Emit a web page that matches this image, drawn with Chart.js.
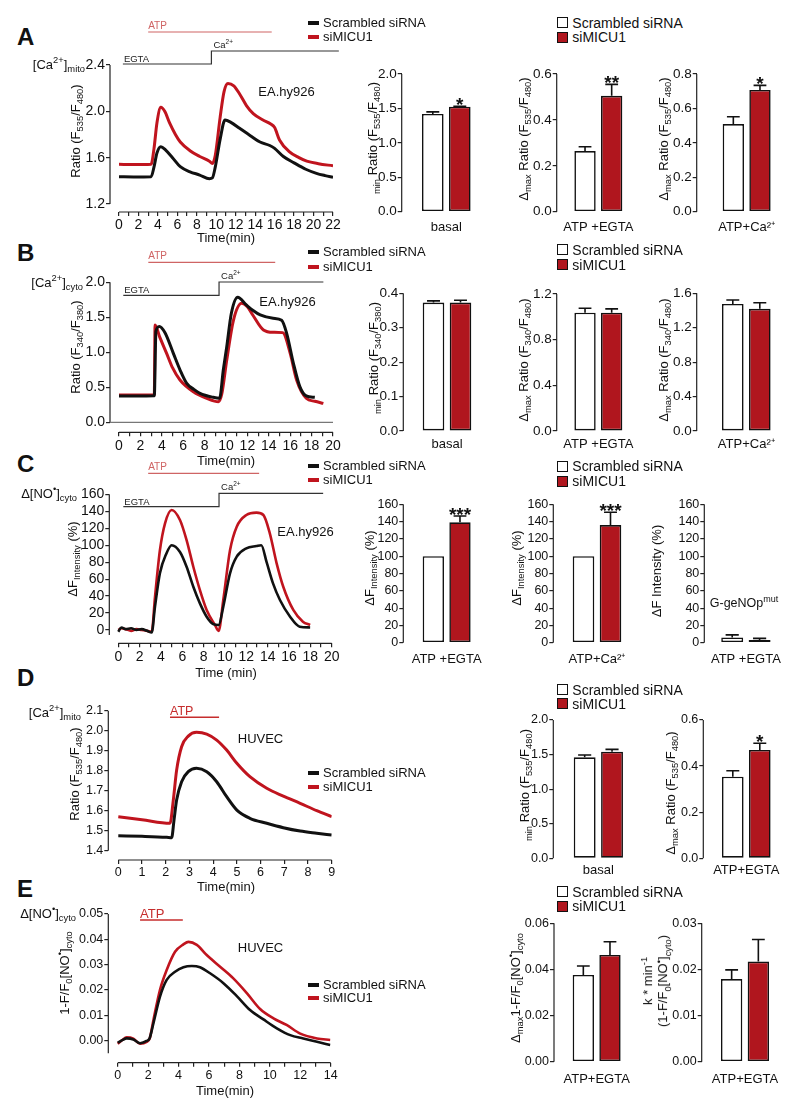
<!DOCTYPE html>
<html>
<head>
<meta charset="utf-8">
<script src="https://cdn.jsdelivr.net/npm/chart.js@4.4.1/dist/chart.umd.min.js"></script>
<style>
  body { margin: 0; background: #fff; }
  #fig { position: relative; width: 800px; height: 1112px; overflow: hidden;
         font-family: "Liberation Sans", Arial, sans-serif; color: #111; }
  #fig canvas { position: absolute; }
  .t { position: absolute; white-space: nowrap; line-height: 1.15; }
  .t sub, .t sup { font-size: 0.72em; line-height: 0; }
  .mk { position: absolute; }
</style>
</head>
<body>
<div id="fig"></div>
<script>
const groups = ['Scrambled siRNA', 'siMICU1'];
const black = '#111', red = '#c0141e', barRed = '#b0161e';

// A: [Ca2+]mito, EA.hy926
const tA_scr = [0, 1.5, 3.3, 3.6, 3.9, 4.3, 4.8, 5.5, 6.3, 7.3, 8.3, 9.3, 9.6, 9.9, 10.4, 10.9, 11.5, 12.4, 13.5, 14.5, 15.5, 16.0, 16.9, 18.0, 19.2, 20.3, 21.2, 22];
const rA_scr = [1.436, 1.434, 1.436, 1.52, 1.64, 1.695, 1.665, 1.6, 1.522, 1.478, 1.45, 1.418, 1.425, 1.52, 1.76, 1.925, 1.905, 1.853, 1.79, 1.735, 1.705, 1.68, 1.61, 1.555, 1.5, 1.465, 1.445, 1.43];
const tA_mic = [0, 1.5, 3.3, 3.6, 3.9, 4.3, 4.7, 5.2, 5.8, 6.3, 7.3, 8.3, 9.3, 9.6, 9.9, 10.4, 10.8, 11.2, 11.8, 12.4, 13.1, 13.8, 14.8, 15.6, 16.0, 16.5, 17.5, 18.5, 19.3, 20.5, 22];
const rA_mic = [1.543, 1.54, 1.543, 1.68, 1.9, 2.035, 2.0, 1.9, 1.8, 1.735, 1.66, 1.61, 1.57, 1.55, 1.62, 1.95, 2.17, 2.24, 2.22, 2.15, 2.05, 1.98, 1.925, 1.89, 1.86, 1.753, 1.652, 1.6, 1.57, 1.548, 1.53];
const atpA = [3.0, 15.7], egtaA = [0.4, 9.5, 22.6];
const xTicksA = [0, 1, 2, 3, 4, 5, 6, 7, 8, 9, 10, 11, 12, 13, 14, 15, 16, 17, 18, 19, 20, 21, 22];
const xLabelsA = [0, 2, 4, 6, 8, 10, 12, 14, 16, 18, 20, 22];
const yTicksA = [1.2, 1.6, 2.0, 2.4];
const basalA = [1.42, 1.526], basalErrA = [0.03, 0.005], basalSigA = ['', '*'];
const egtaMaxA = [0.264, 0.505], egtaErrA = [0.019, 0.05], egtaSigA = ['', '**'];
const caMaxA = [0.509, 0.707], caErrA = [0.043, 0.027], caSigA = ['', '*'];
const yBasalA = [0, 0.5, 1.0, 1.5, 2.0], yEgtaA = [0, 0.2, 0.4, 0.6], yCaA = [0, 0.2, 0.4, 0.6, 0.8];

// B: [Ca2+]cyto, EA.hy926
const tB_scr = [0, 1.5, 3.3, 3.45, 3.77, 4.3, 5.08, 5.7, 6.33, 7.0, 7.57, 8.8, 9.4, 9.75, 10.07, 10.5, 11.09, 11.9, 12.5, 13.2, 14.4, 15.2, 15.67, 16.3, 16.9, 17.5, 18.3];
const rB_scr = [0.376, 0.376, 0.38, 1.3, 1.37, 1.28, 0.985, 0.75, 0.557, 0.47, 0.414, 0.357, 0.343, 0.75, 1.08, 1.557, 1.786, 1.676, 1.6, 1.533, 1.486, 1.457, 1.271, 0.843, 0.509, 0.376, 0.357];
const tB_mic = [0, 1.5, 3.3, 3.37, 3.8, 4.45, 5.0, 5.7, 6.95, 8.2, 9.3, 9.6, 10.07, 10.7, 11.47, 12.0, 12.5, 13.5, 14.4, 15.3, 16.0, 16.6, 17.5, 18.3, 19.1];
const rB_mic = [0.39, 0.39, 0.39, 1.39, 1.22, 0.985, 0.78, 0.604, 0.437, 0.343, 0.294, 0.4, 0.89, 1.461, 1.7, 1.65, 1.533, 1.319, 1.286, 1.281, 0.985, 0.604, 0.343, 0.3, 0.27];
const atpB = [2.74, 14.6], egtaB = [0.4, 9.35, 19.1];
const xTicksB = [0, 1, 2, 3, 4, 5, 6, 7, 8, 9, 10, 11, 12, 13, 14, 15, 16, 17, 18, 19, 20];
const xLabelsB = [0, 2, 4, 6, 8, 10, 12, 14, 16, 18, 20];
const yTicksB = [0, 0.5, 1.0, 1.5, 2.0];
const basalB = [0.373, 0.373], basalErrB = [0.005, 0.007];
const egtaMaxB = [1.036, 1.036], egtaErrB = [0.039, 0.034];
const caMaxB = [1.476, 1.42], caErrB = [0.046, 0.07];
const yBasalB = [0, 0.1, 0.2, 0.3, 0.4], yEgtaB = [0, 0.4, 0.8, 1.2], yCaB = [0, 0.4, 0.8, 1.2, 1.6];

// C: NO signal, EA.hy926
const tC_scr = [0, 0.3, 0.7, 1.2, 1.7, 2.2, 2.7, 3.13, 3.44, 3.9, 4.5, 5.0, 5.78, 6.4, 7.03, 7.65, 8.28, 8.9, 9.4, 9.84, 10.47, 11.1, 12.0, 12.95, 13.4, 13.9, 14.5, 15.15, 16.1, 17.0, 17.98];
const fC_scr = [-2, 3, 1, 2, 0, 1, -1, -3, 27.5, 66.8, 90, 100, 92, 74.6, 51, 31.4, 15.7, 7, 5.9, 27.5, 66.8, 86.5, 96.3, 99, 100, 80, 55, 35.4, 15.7, 3.9, 3];
const tC_mic = [0, 0.3, 0.7, 1.2, 1.7, 2.2, 2.7, 3.13, 3.44, 3.9, 4.38, 5.0, 5.78, 6.4, 7.03, 7.65, 8.28, 9.06, 9.4, 9.84, 10.47, 11.1, 12.0, 12.95, 13.6, 14.2, 14.84, 15.46, 16.4, 17.3, 17.98];
const fC_mic = [0, 2, 1, -1, 1, 0, -1, -2, 39, 94, 125.8, 141.5, 129.7, 106, 74.6, 47, 23.6, 5.9, -1, 35.4, 94, 121.8, 135.6, 138.4, 135.6, 114, 78.6, 51, 23.6, 9.8, 5.9];
const atpC = [2.8, 13.2], egtaC = [0.47, 9.44, 19.2];
const xTicksC = [0, 1, 2, 3, 4, 5, 6, 7, 8, 9, 10, 11, 12, 13, 14, 15, 16, 17, 18, 19, 20];
const xLabelsC = [0, 2, 4, 6, 8, 10, 12, 14, 16, 18, 20];
const yTicksC = [0, 20, 40, 60, 80, 100, 120, 140, 160];
const egtaC_bar = [100, 139.2], egtaErrC = [0, 7.3], egtaSigC = ['', '***'];
const caC_bar = [100, 136], caErrC = [0, 14.8], caSigC = ['', '***'];
const mutC_bar = [6, 3], mutErrC = [3, 2];

// D: [Ca2+]mito, HUVEC
const tD_scr = [0, 1.0, 2.04, 2.25, 2.35, 2.46, 2.67, 2.95, 3.3, 3.73, 4.15, 4.57, 5.0, 5.55, 6.26, 6.96, 7.67, 8.37, 9];
const rD_scr = [1.475, 1.472, 1.467, 1.465, 1.553, 1.653, 1.745, 1.795, 1.812, 1.795, 1.745, 1.67, 1.603, 1.562, 1.537, 1.515, 1.498, 1.487, 1.478];
const tD_mic = [0, 1.0, 2.18, 2.32, 2.46, 2.67, 2.95, 3.3, 3.73, 4.15, 4.57, 5.0, 5.55, 6.26, 6.96, 7.67, 8.37, 9];
const rD_mic = [1.57, 1.555, 1.537, 1.653, 1.803, 1.92, 1.973, 1.992, 1.983, 1.953, 1.903, 1.837, 1.77, 1.712, 1.673, 1.637, 1.6, 1.57];
const atpD = [2.18, 4.25];
const xTicksD = [0, 1, 2, 3, 4, 5, 6, 7, 8, 9];
const yTicksD = [1.4, 1.5, 1.6, 1.7, 1.8, 1.9, 2.0, 2.1];
const basalD = [1.46, 1.541], basalErrD = [0.033, 0.034];
const egtaMaxD = [0.354, 0.47], egtaErrD = [0.026, 0.029], egtaSigD = ['', '*'];
const yBasalD = [0, 0.5, 1.0, 1.5, 2.0], yEgtaD = [0, 0.2, 0.4, 0.6];

// E: NO signal, HUVEC
const tE_scr = [0, 0.3, 0.59, 1.03, 1.47, 1.9, 2.1, 2.35, 2.78, 3.22, 3.77, 4.32, 4.87, 5.41, 6.07, 6.95, 7.83, 8.7, 9.58, 10.46, 11.34, 12.2, 13.1, 13.97];
const fE_scr = [-0.0008, 0.0002, 0.0009, 0.0005, -0.001, -0.0001, 0.001, 0.0069, 0.0174, 0.024, 0.0272, 0.029, 0.0295, 0.029, 0.0266, 0.0227, 0.0176, 0.0121, 0.0084, 0.0049, 0.0022, 0.0009, -0.0004, -0.0017];
const tE_mic = [0, 0.3, 0.59, 1.03, 1.47, 1.9, 2.1, 2.35, 2.78, 3.22, 3.77, 4.32, 4.65, 5.2, 5.85, 6.73, 7.6, 8.5, 9.36, 10.24, 11.1, 12.0, 13.1, 13.97];
const fE_mic = [-0.0012, 0.0003, 0.0013, 0.0008, -0.0012, -0.0005, 0.0008, 0.0082, 0.0201, 0.0279, 0.0351, 0.038, 0.039, 0.0378, 0.0338, 0.0292, 0.0246, 0.0187, 0.0125, 0.0088, 0.0062, 0.0028, 0.0009, 0.0003];
const atpE = [1.47, 4.28];
const xTicksE = [0, 1, 2, 3, 4, 5, 6, 7, 8, 9, 10, 11, 12, 13, 14];
const xLabelsE = [0, 2, 4, 6, 8, 10, 12, 14];
const yTicksE = [0, 0.01, 0.02, 0.03, 0.04, 0.05];
const maxE_bar = [0.0376, 0.0463], maxErrE = [0.0039, 0.0057];
const kE_bar = [0.0179, 0.0217], kErrE = [0.002, 0.0048];
const yMaxE = [0, 0.02, 0.04, 0.06], yKE = [0, 0.01, 0.02, 0.03];

Chart.defaults.font.family = '"Liberation Sans", Arial, sans-serif';
Chart.defaults.font.size = 14;
Chart.defaults.color = '#111';

// axis lines drawn only over the tick range (offset axes)
const frame = {
    id: 'frame',
    afterDraw(chart) {
        const o = chart.canvas.frame;
        if (!o) return;
        const ctx = chart.ctx, x = chart.scales.x, y = chart.scales.y, a = chart.chartArea;
        ctx.save();
        ctx.strokeStyle = '#222';
        ctx.lineWidth = 1.2;
        ctx.beginPath();
        ctx.moveTo(a.left, y.getPixelForValue(o.yFrom));
        ctx.lineTo(a.left, y.getPixelForValue(o.yTo));
        if (o.xTo !== undefined) {
            ctx.moveTo(x.getPixelForValue(0), a.bottom);
            ctx.lineTo(x.getPixelForValue(o.xTo), a.bottom);
        }
        ctx.stroke();
        if (o.zero) {
            ctx.strokeStyle = '#777';
            ctx.beginPath();
            ctx.moveTo(a.left, y.getPixelForValue(0));
            ctx.lineTo(x.getPixelForValue(o.xTo), y.getPixelForValue(0));
            ctx.stroke();
        }
        ctx.restore();
    }
};

const errorBars = {
    id: 'errorBars',
    afterDatasetsDraw(chart) {
        const ctx = chart.ctx, y = chart.scales.y;
        chart.data.datasets.forEach((ds, i) => {
            if (!ds.errors) return;
            chart.getDatasetMeta(i).data.forEach((bar, j) => {
                const err = ds.errors[j];
                const top = y.getPixelForValue(ds.data[j] + err);
                ctx.save();
                ctx.strokeStyle = '#111';
                ctx.lineWidth = 1.6;
                if (err > 0) {
                    const hw = bar.width * 0.3;
                    ctx.beginPath();
                    ctx.moveTo(bar.x, bar.y);
                    ctx.lineTo(bar.x, top);
                    ctx.moveTo(bar.x - hw, top);
                    ctx.lineTo(bar.x + hw, top);
                    ctx.stroke();
                }
                if (ds.sig && ds.sig[j]) {
                    ctx.fillStyle = '#111';
                    ctx.font = 'bold 19px "Liberation Sans", Arial';
                    ctx.textAlign = 'center';
                    ctx.fillText(ds.sig[j], bar.x, top + 5);
                }
                ctx.restore();
            });
        });
    }
};

// ATP bar and EGTA / Ca2+ step above the traces
const marks = {
    id: 'marks',
    afterDraw(chart) {
        const o = chart.canvas.marks;
        if (!o) return;
        const ctx = chart.ctx, x = chart.scales.x;
        const top0 = parseFloat(chart.canvas.style.top);
        const Y = v => v - top0;
        ctx.save();
        const a1 = x.getPixelForValue(o.atp[0]), a2 = x.getPixelForValue(o.atp[1]);
        ctx.strokeStyle = o.atpColor;
        ctx.lineWidth = o.atpWidth;
        ctx.beginPath();
        ctx.moveTo(a1, Y(o.atpY));
        ctx.lineTo(a2, Y(o.atpY));
        ctx.stroke();
        ctx.fillStyle = o.atpColor;
        ctx.font = o.atpFont + ' "Liberation Sans", Arial';
        ctx.fillText('ATP', a1, Y(o.atpY) - o.atpGap);
        if (o.egta) {
            const e0 = x.getPixelForValue(o.egta[0]), e1 = x.getPixelForValue(o.egta[1]), e2 = x.getPixelForValue(o.egta[2]);
            ctx.strokeStyle = '#333';
            ctx.lineWidth = 1.2;
            ctx.beginPath();
            ctx.moveTo(e0, Y(o.egtaY));
            ctx.lineTo(e1, Y(o.egtaY));
            ctx.lineTo(e1, Y(o.caY));
            ctx.lineTo(e2, Y(o.caY));
            ctx.stroke();
            ctx.fillStyle = '#222';
            ctx.font = '9.5px "Liberation Sans", Arial';
            ctx.fillText('EGTA', e0 + 1, Y(o.egtaY) - 2);
            ctx.fillText('Ca', e1 + 2, Y(o.caY) - 3);
            const w = ctx.measureText('Ca').width;
            ctx.font = '6.5px "Liberation Sans", Arial';
            ctx.fillText('2+', e1 + 2 + w, Y(o.caY) - 7);
        }
        ctx.restore();
    }
};

Chart.register(frame, errorBars, marks);

const fig = document.getElementById('fig');

function canvasAt(box, pad) {
    const c = document.createElement('canvas');
    const left = Math.round(box.left - pad.l), top = Math.round(box.top - pad.t);
    const w = Math.round(box.right + pad.r) - left, h = Math.round(box.bottom + pad.b) - top;
    c.width = w; c.height = h;
    c.style.left = left + 'px'; c.style.top = top + 'px';
    c.style.width = w + 'px'; c.style.height = h + 'px';
    c.pl = box.left - left; c.pt = box.top - top;
    c.pr = w - (box.right - left); c.pb = h - (box.bottom - top);
    fig.appendChild(c);
    return c;
}

function yAxis(c, ticks, dec, min, max, size) {
    return {
        min, max, bounds: 'data',
        border: { display: false },
        grid: { drawOnChartArea: false, tickLength: 4, color: '#222', lineWidth: 1.2 },
        ticks: { autoSkip: false, padding: 1, font: { size },
                 callback: v => ticks.includes(v) ? v.toFixed(dec) : '' },
        afterBuildTicks: s => { s.ticks = ticks.map(v => ({ value: v })); },
        afterFit: s => { s.width = c.pl; s.paddingTop = 0; s.paddingBottom = 0; }
    };
}

function lineChart(p) {
    const c = canvasAt({ left: p.axisX, top: p.topPx, right: p.xEndPx, bottom: p.axisY },
                       { l: 44, t: p.padTop, r: 16, b: 30 });
    const yT = p.yTicks, xT = p.xTicks;
    const yPer = (p.lowPx - p.topPx) / (yT[yT.length - 1] - yT[0]);
    const yMin = yT[0] - (p.axisY - p.lowPx) / yPer;
    const xMax = xT[xT.length - 1];
    const xMin = -(p.x0Px - p.axisX) / ((p.xEndPx - p.x0Px) / xMax);
    c.frame = { yFrom: yT[yT.length - 1], yTo: p.yAxisEnd, xTo: xMax, zero: p.zero };
    c.marks = p.marks;
    new Chart(c, {
        type: 'line',
        data: {
            datasets: p.series.map(s => ({
                label: s.label,
                data: s.t.map((t, i) => ({ x: t, y: s.v[i] })),
                borderColor: s.color,
                borderWidth: p.lw,
                pointRadius: 0,
                cubicInterpolationMode: 'monotone',
                fill: false
            }))
        },
        options: {
            responsive: false, animation: false, events: [],
            layout: { padding: { top: c.pt, right: c.pr, left: 0, bottom: 0 } },
            plugins: { legend: { display: false }, tooltip: { enabled: false } },
            scales: {
                x: {
                    type: 'linear', min: xMin, max: xMax, bounds: 'data',
                    border: { display: false },
                    grid: { drawOnChartArea: false, tickLength: 4, color: '#222', lineWidth: 1.2 },
                    ticks: { autoSkip: false, maxRotation: 0, padding: 1, font: { size: p.tick },
                             callback: v => p.xLabels.includes(v) ? String(v) : '' },
                    afterBuildTicks: s => { s.ticks = xT.map(v => ({ value: v })); },
                    afterFit: s => { s.height = c.pb; s.paddingLeft = 0; s.paddingRight = 0; }
                },
                y: yAxis(c, yT, p.dec, yMin, yT[yT.length - 1], p.tick)
            }
        }
    });
}

function barChart(p) {
    const right = p.barL + p.barR - p.axisX;
    const c = canvasAt({ left: p.axisX, top: p.topPx, right, bottom: p.zeroPx },
                       { l: 44, t: 22, r: 6, b: 30 });
    const yT = p.yTicks;
    c.frame = { yFrom: yT[yT.length - 1], yTo: 0 };
    const catPct = (p.barR - p.barL) / (right - p.axisX);
    const common = { borderColor: '#111', borderWidth: 1.6, borderSkipped: false,
                     barPercentage: 0.8, categoryPercentage: catPct };
    new Chart(c, {
        type: 'bar',
        data: {
            labels: [p.cat],
            datasets: [
                Object.assign({ label: groups[0], data: [p.vals[0]], errors: [p.errs[0]],
                                sig: [p.sig ? p.sig[0] : ''], backgroundColor: '#fff' }, common),
                Object.assign({ label: groups[1], data: [p.vals[1]], errors: [p.errs[1]],
                                sig: [p.sig ? p.sig[1] : ''], backgroundColor: barRed }, common)
            ]
        },
        options: {
            responsive: false, animation: false, events: [],
            layout: { padding: { top: c.pt, right: c.pr, left: 0, bottom: 0 } },
            plugins: { legend: { display: false }, tooltip: { enabled: false } },
            scales: {
                x: {
                    border: { display: false },
                    grid: { display: false, drawTicks: false },
                    ticks: { padding: p.catPad, font: { size: 13 } },
                    afterFit: s => { s.height = c.pb; s.paddingLeft = 0; s.paddingRight = 0; }
                },
                y: yAxis(c, yT, p.dec, 0, yT[yT.length - 1], p.tick)
            }
        }
    });
}

function label(html, x, y, o = {}) {
    const d = document.createElement('div');
    d.className = 't';
    d.innerHTML = html;
    d.style.left = x + 'px';
    d.style.top = y + 'px';
    d.style.fontSize = (o.size || 13) + 'px';
    if (o.bold) d.style.fontWeight = 'bold';
    if (o.center) d.style.textAlign = 'center';
    let tf = o.align === 'right' ? 'translate(-100%,-50%)' : o.align === 'left' ? 'translate(0,-50%)' : 'translate(-50%,-50%)';
    if (o.rot) tf += ' rotate(-90deg)';
    d.style.transform = tf;
    fig.appendChild(d);
}

function box(x, y, w, h, bg, border) {
    const d = document.createElement('div');
    d.className = 'mk';
    Object.assign(d.style, { left: x + 'px', top: y + 'px', width: w + 'px', height: h + 'px',
                             background: bg, border: border || 'none', boxSizing: 'border-box' });
    fig.appendChild(d);
}

function lineLegend(x, y1, y2) {
    box(x, y1 - 2, 11, 4, black);
    box(x, y2 - 2, 11, 4, red);
    label(groups[0], x + 15, y1, { align: 'left', size: 13 });
    label(groups[1], x + 15, y2, { align: 'left', size: 13 });
}

function barLegend(x, y1, y2) {
    box(x, y1 - 5.5, 11, 11, '#fff', '1.3px solid #111');
    box(x, y2 - 5.5, 11, 11, barRed, '1.3px solid #111');
    label(groups[0], x + 15, y1, { align: 'left', size: 14 });
    label(groups[1], x + 15, y2, { align: 'left', size: 14 });
}

const redSoft = '#cf6464';

// ---- A
lineChart({
    axisX: 110, topPx: 65, lowPx: 204, axisY: 212, x0Px: 119, xEndPx: 333, padTop: 50, tick: 14,
    yTicks: yTicksA, xTicks: xTicksA, xLabels: xLabelsA, dec: 1, yAxisEnd: 1.2, lw: 3,
    series: [{ label: groups[0], t: tA_scr, v: rA_scr, color: black },
             { label: groups[1], t: tA_mic, v: rA_mic, color: red }],
    marks: { atp: atpA, atpY: 32, atpColor: redSoft, atpWidth: 1.2, atpFont: '10px', atpGap: 3,
             egta: egtaA, egtaY: 64, caY: 51 }
});
barChart({ axisX: 401.7, topPx: 74, zeroPx: 211.7, barL: 419.3, barR: 473.3, yTicks: yBasalA, dec: 1, tick: 13.5,
           cat: 'basal', catPad: 8, vals: basalA, errs: basalErrA, sig: basalSigA });
barChart({ axisX: 556.7, topPx: 74, zeroPx: 211.7, barL: 571.7, barR: 625, yTicks: yEgtaA, dec: 1, tick: 13.5,
           cat: 'ATP +EGTA', catPad: 8, vals: egtaMaxA, errs: egtaErrA, sig: egtaSigA });
barChart({ axisX: 696.7, topPx: 74, zeroPx: 211.7, barL: 720, barR: 773.3, yTicks: yCaA, dec: 1, tick: 13.5,
           cat: 'ATP+Ca²⁺', catPad: 8, vals: caMaxA, errs: caErrA, sig: caSigA });

// ---- B
lineChart({
    axisX: 110, topPx: 282.3, lowPx: 422.3, axisY: 432.3, x0Px: 119, xEndPx: 333, padTop: 50, tick: 14,
    yTicks: yTicksB, xTicks: xTicksB, xLabels: xLabelsB, dec: 1, yAxisEnd: 0, lw: 3, zero: true,
    series: [{ label: groups[0], t: tB_scr, v: rB_scr, color: black },
             { label: groups[1], t: tB_mic, v: rB_mic, color: red }],
    marks: { atp: atpB, atpY: 262.3, atpColor: redSoft, atpWidth: 1.2, atpFont: '10px', atpGap: 3,
             egta: egtaB, egtaY: 295.3, caY: 282 }
});
barChart({ axisX: 403.3, topPx: 293.3, zeroPx: 431, barL: 420, barR: 474, yTicks: yBasalB, dec: 1, tick: 13.5,
           cat: 'basal', catPad: 6, vals: basalB, errs: basalErrB });
barChart({ axisX: 556.7, topPx: 294, zeroPx: 431, barL: 571.7, barR: 625, yTicks: yEgtaB, dec: 1, tick: 13.5,
           cat: 'ATP +EGTA', catPad: 6, vals: egtaMaxB, errs: egtaErrB });
barChart({ axisX: 696.7, topPx: 293.3, zeroPx: 431, barL: 719.3, barR: 773.3, yTicks: yCaB, dec: 1, tick: 13.5,
           cat: 'ATP+Ca²⁺', catPad: 6, vals: caMaxB, errs: caErrB });

// ---- C
lineChart({
    axisX: 109.3, topPx: 494.3, lowPx: 630, axisY: 643.3, x0Px: 118.3, xEndPx: 331.7, padTop: 50, tick: 14,
    yTicks: yTicksC, xTicks: xTicksC, xLabels: xLabelsC, dec: 0, yAxisEnd: -6, lw: 2.6,
    series: [{ label: groups[0], t: tC_scr, v: fC_scr, color: black },
             { label: groups[1], t: tC_mic, v: fC_mic, color: red }],
    marks: { atp: atpC, atpY: 473.3, atpColor: redSoft, atpWidth: 1.2, atpFont: '10px', atpGap: 3,
             egta: egtaC, egtaY: 506.7, caY: 493.3 }
});
barChart({ axisX: 403.3, topPx: 504.3, zeroPx: 642.7, barL: 420, barR: 473.3, yTicks: yTicksC, dec: 0, tick: 12.5,
           cat: 'ATP +EGTA', catPad: 9, vals: egtaC_bar, errs: egtaErrC, sig: egtaSigC });
barChart({ axisX: 553.3, topPx: 504.3, zeroPx: 642.7, barL: 570, barR: 624, yTicks: yTicksC, dec: 0, tick: 12.5,
           cat: 'ATP+Ca²⁺', catPad: 9, vals: caC_bar, errs: caErrC, sig: caSigC });
barChart({ axisX: 704.3, topPx: 504.3, zeroPx: 642.7, barL: 718.5, barR: 773.3, yTicks: yTicksC, dec: 0, tick: 12.5,
           cat: 'ATP +EGTA', catPad: 9, vals: mutC_bar, errs: mutErrC });

// ---- D
lineChart({
    axisX: 108.3, topPx: 710.7, lowPx: 850.7, axisY: 860, x0Px: 118.3, xEndPx: 331.7, padTop: 22, tick: 12.5,
    yTicks: yTicksD, xTicks: xTicksD, xLabels: xTicksD, dec: 1, yAxisEnd: 1.4, lw: 3,
    series: [{ label: groups[0], t: tD_scr, v: rD_scr, color: black },
             { label: groups[1], t: tD_mic, v: rD_mic, color: red }],
    marks: { atp: atpD, atpY: 717.3, atpColor: '#c62d2d', atpWidth: 1.6, atpFont: '12.5px', atpGap: 2 }
});
barChart({ axisX: 553.3, topPx: 720, zeroPx: 858.3, barL: 571, barR: 625.7, yTicks: yBasalD, dec: 1, tick: 12.5,
           cat: 'basal', catPad: 4, vals: basalD, errs: basalErrD });
barChart({ axisX: 703.3, topPx: 720, zeroPx: 858.3, barL: 719.3, barR: 773.3, yTicks: yEgtaD, dec: 1, tick: 12.5,
           cat: 'ATP+EGTA', catPad: 4, vals: egtaMaxD, errs: egtaErrD, sig: egtaSigD });

// ---- E
lineChart({
    axisX: 108.3, topPx: 914, lowPx: 1040.7, axisY: 1062.7, x0Px: 117.7, xEndPx: 330.7, padTop: 22, tick: 12.5,
    yTicks: yTicksE, xTicks: xTicksE, xLabels: xLabelsE, dec: 2, yAxisEnd: -0.005, lw: 2.6,
    series: [{ label: groups[0], t: tE_scr, v: fE_scr, color: black },
             { label: groups[1], t: tE_mic, v: fE_mic, color: red }],
    marks: { atp: atpE, atpY: 920, atpColor: '#c62d2d', atpWidth: 1.6, atpFont: '13px', atpGap: 2 }
});
barChart({ axisX: 554, topPx: 923.3, zeroPx: 1061.7, barL: 570, barR: 623.3, yTicks: yMaxE, dec: 2, tick: 12.5,
           cat: 'ATP+EGTA', catPad: 10, vals: maxE_bar, errs: maxErrE });
barChart({ axisX: 701.7, topPx: 923.3, zeroPx: 1061.7, barL: 718.3, barR: 771.7, yTicks: yKE, dec: 2, tick: 12.5,
           cat: 'ATP+EGTA', catPad: 10, vals: kE_bar, errs: kErrE });

// ---- text
[['A', 37], ['B', 253], ['C', 464], ['D', 678], ['E', 889]].forEach(([s, y]) =>
    label(s, 17, y, { size: 24, bold: true, align: 'left' }));

label('[Ca<sup>2+</sup>]<sub>mito</sub>', 85, 65, { align: 'right' });
label('[Ca<sup>2+</sup>]<sub>cyto</sub>', 83, 283, { align: 'right' });
label('Δ[NO<sup>•</sup>]<sub>cyto</sub>', 77, 494, { align: 'right' });
label('[Ca<sup>2+</sup>]<sub>mito</sub>', 81, 713, { align: 'right' });
label('Δ[NO<sup>•</sup>]<sub>cyto</sub>', 76, 914, { align: 'right' });

const r535 = 'Ratio (F<sub>535</sub>/F<sub>480</sub>)';
label(r535, 76, 131, { rot: true });
label('<sub>min</sub> ' + r535, 373, 138, { rot: true });
label('Δ<sub>max</sub> ' + r535, 524, 139, { rot: true });
label('Δ<sub>max</sub> ' + r535, 664, 139, { rot: true });
label('Ratio (F<sub>340</sub>/F<sub>380</sub>)', 76, 347, { rot: true });
label('<sub>min</sub> Ratio (F<sub>340</sub>/F<sub>380</sub>)', 374, 358, { rot: true });
label('Δ<sub>max</sub> Ratio (F<sub>340</sub>/F<sub>480</sub>)', 524, 360, { rot: true });
label('Δ<sub>max</sub> Ratio (F<sub>340</sub>/F<sub>480</sub>)', 664, 360, { rot: true });
label('ΔF<sub>Intensity</sub> (%)', 73, 559, { rot: true });
label('ΔF<sub>Intensity</sub> (%)', 370, 568, { rot: true });
label('ΔF<sub>Intensity</sub> (%)', 517, 568, { rot: true });
label('ΔF Intensity (%)', 657, 571, { rot: true });
label(r535, 75, 774, { rot: true });
label('<sub>min</sub> ' + r535, 525, 785, { rot: true });
label('Δ<sub>max</sub> ' + r535, 671, 793, { rot: true });
label('1-F/F<sub>0</sub>[NO<sup>•</sup>]<sub>cyto</sub>', 65, 973, { rot: true });
label('Δ<sub>max</sub>1-F/F<sub>0</sub>[NO<sup>•</sup>]<sub>cyto</sub>', 516, 988, { rot: true });
label('k * min<sup>-1</sup><br>(1-F/F<sub>0</sub>[NO<sup>•</sup>]<sub>cyto</sub>)', 656, 981, { rot: true, center: true });

label('Time(min)', 226, 238);
label('Time(min)', 226, 461);
label('Time (min)', 226, 673);
label('Time(min)', 226, 887);
label('Time(min)', 225, 1091);

label('EA.hy926', 286.5, 92);
label('EA.hy926', 287.5, 302);
label('EA.hy926', 305.5, 532);
label('HUVEC', 260.5, 739);
label('HUVEC', 260.5, 948);
label('G-geNOp<sup>mut</sup>', 744, 603, { size: 12.5 });

lineLegend(308, 23, 37.3);
lineLegend(308, 252.3, 266.7);
lineLegend(308, 465.7, 480);
lineLegend(308, 773.3, 786.7);
lineLegend(308, 985, 997.5);

barLegend(557.3, 22.8, 37.2);
barLegend(557.3, 249.5, 264.5);
barLegend(557.3, 466.2, 481.3);
barLegend(557.3, 689.5, 703.8);
barLegend(557.3, 891.5, 906.2);
</script>
</body>
</html>
